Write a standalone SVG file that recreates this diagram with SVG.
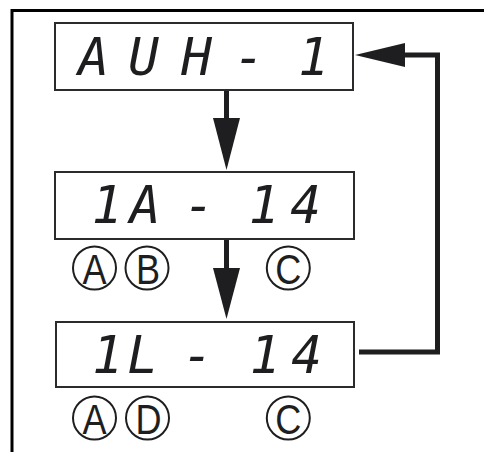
<svg xmlns="http://www.w3.org/2000/svg" width="484" height="452" viewBox="0 0 484 452">
<style>
.box{fill:#fff;stroke:#2b2b2e;stroke-width:2}
.seg{font-family:"DejaVu Sans Mono","Liberation Mono",monospace;font-style:oblique;font-size:51px;fill:#1e1e21;text-anchor:middle}
.conn{fill:none;stroke:#1e1e21;stroke-width:5}
.head{fill:#1e1e21}
.ring{fill:none;stroke:#1e1e21;stroke-width:2}
.lbl{font-family:"Liberation Sans",Arial,sans-serif;font-size:43px;fill:#1e1e21;text-anchor:middle}
.frame{fill:none;stroke:#000;stroke-width:3}
</style>
<rect width="484" height="452" fill="#fff"/>
<path class="frame" d="M12 452 V10.5 H484"/>
<g id="connectors">
<line class="conn" x1="226.5" y1="90" x2="226.5" y2="120"/>
<polygon class="head" points="213,118 240,118 226.5,170"/>
<line class="conn" x1="226.5" y1="239" x2="226.5" y2="270"/>
<polygon class="head" points="213,268 240,268 226.5,319"/>
<path class="conn" d="M359 352 H437.5 V55 H400"/>
<polygon class="head" points="405,43 405,67 355,55"/>
</g>
<g id="node-auh">
<rect class="box" x="55" y="23" width="298" height="67"/>
<text class="seg" x="93.5 143.5 196.5 222 249 280 313.5" y="75">AUH - 1</text>
</g>
<g id="node-1a">
<rect class="box" x="55" y="172" width="299" height="67"/>
<text class="seg" x="107 145 172 199 230 264 305.5" y="223">1A - 14</text>
<g id="labels-1a">
<circle class="ring" cx="94.5" cy="268" r="21.5"/>
<circle class="ring" cx="147" cy="268" r="21.5"/>
<circle class="ring" cx="288.3" cy="268" r="21.5"/>
<text class="lbl" transform="translate(94.5,284) scale(0.84,1)">A</text>
<text class="lbl" transform="translate(148,284) scale(0.84,1)">B</text>
<text class="lbl" transform="translate(288.3,284) scale(0.84,1)">C</text>
</g>
</g>
<g id="node-1l">
<rect class="box" x="56" y="322" width="298" height="65"/>
<text class="seg" x="107.5 142.5 170 197.5 230 265 306.5" y="373">1L - 14</text>
<g id="labels-1l">
<circle class="ring" cx="94.5" cy="418" r="21.5"/>
<circle class="ring" cx="147.5" cy="418" r="21.5"/>
<circle class="ring" cx="288.3" cy="418" r="21.5"/>
<text class="lbl" transform="translate(94.5,434) scale(0.84,1)">A</text>
<text class="lbl" transform="translate(148.5,434) scale(0.84,1)">D</text>
<text class="lbl" transform="translate(288.3,434) scale(0.84,1)">C</text>
</g>
</g>
</svg>
